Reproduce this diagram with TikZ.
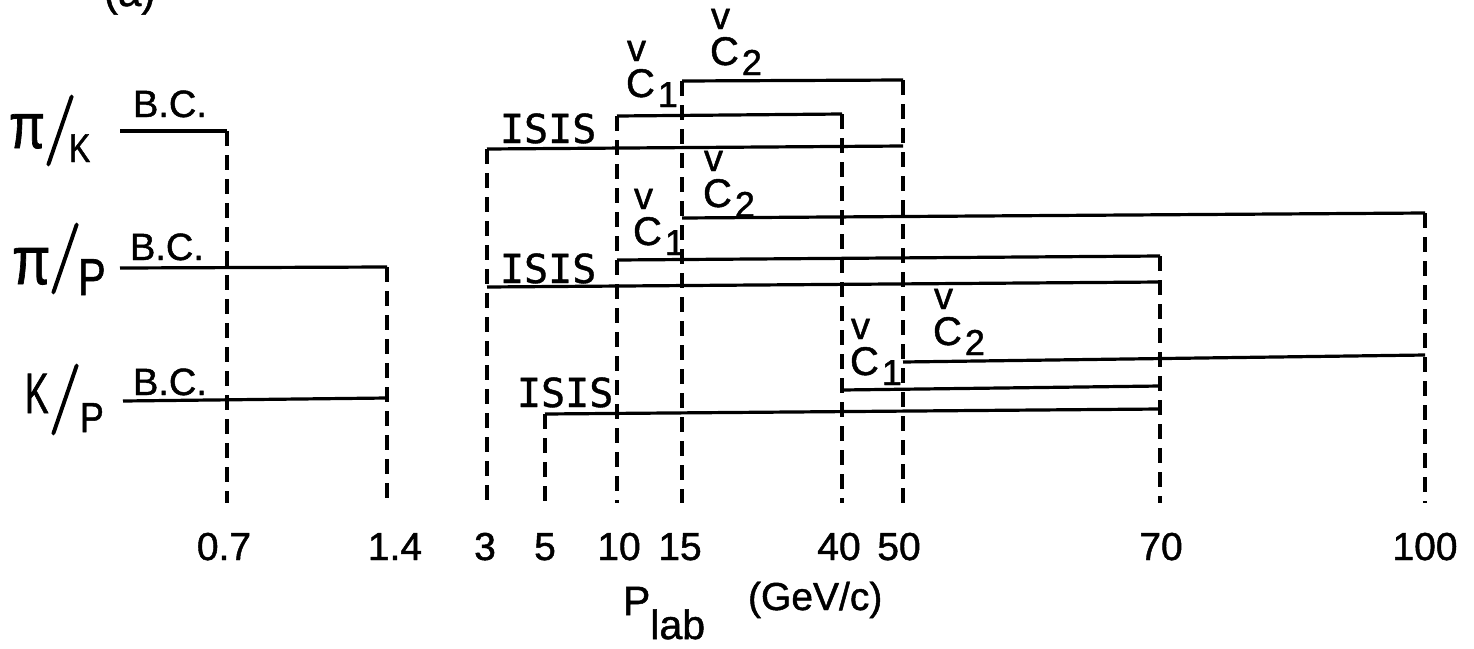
\documentclass[tikz,border=0pt]{standalone}
\usepackage{fontspec}
\setmainfont{Liberation Sans}[FakeBold=1.2]
\newfontfamily\slashfont{Latin Modern Roman}[FakeBold=2]
\newfontfamily\isisfont{DejaVu Sans Mono}[FakeBold=1.0]
\newcommand\fsz[1]{\fontsize{#1}{#1}\selectfont}
\newcommand\Chk[1]{\fsz{40}\makebox[0pt][l]{\hspace{1pt}\raisebox{36pt}{\fsz{38}v}}C\hspace{3pt}\raisebox{-10pt}{\fsz{36}#1}}
\newcommand\RowSlash[1]{{\slashfont\fsz{#1}/}}
\newcommand\RowPi[1]{\scalebox{0.82}[1]{\fsz{#1}π}}
\begin{document}
\begin{tikzpicture}[x=1pt,y=-1pt,
  every node/.style={inner sep=0pt,outer sep=0pt,anchor=base west},
  hline/.style={line width=3.2pt},
  vdash/.style={line width=3.2pt,dash pattern=on 15pt off 9pt},
  ticklbl/.style={anchor=base,font=\fsz{39}},
  bclbl/.style={font=\fsz{38}},
  isislbl/.style={font=\isisfont\fsz{40}}]
\useasboundingbox (0,0) rectangle (1474,648);
\clip (0,0) rectangle (1474,648);
\fill[white] (0,0) rectangle (1474,648);

% panel label (cut off at top)
\node[font=\fsz{42}] (panel) at (104,6) {(a)};

% axis positions
\coordinate (a07) at (227,503);
\coordinate (a14) at (387,503);
\coordinate (a3) at (487,503);
\coordinate (a5) at (545,503);
\coordinate (a10) at (617,503);
\coordinate (a15) at (682,503);
\coordinate (a40) at (842,503);
\coordinate (a50) at (903,503);
\coordinate (a70) at (1160,503);
\coordinate (a100) at (1425,503);

% tick labels
\node[ticklbl] (t07) at (224,560) {0.7};
\node[ticklbl] (t14) at (395,560) {1.4};
\node[ticklbl] (t3) at (485,560) {3};
\node[ticklbl] (t5) at (545,560) {5};
\node[ticklbl] (t10) at (619,560) {10};
\node[ticklbl] (t15) at (680,560) {15};
\node[ticklbl] (t40) at (839,560) {40};
\node[ticklbl] (t50) at (899,560) {50};
\node[ticklbl] (t70) at (1161,560) {70};
\node[ticklbl] (t100) at (1425,560) {100};

% row labels
\node (pkpi) at (9,148) {\RowPi{64}};
\node (pksl) at (44,148) {\RowSlash{70}};
\node[font=\fsz{40}] (pkk) at (69,162) {\scalebox{0.8}[1]{K}};
\node (pppi) at (12,284) {\RowPi{68}};
\node (ppsl) at (49,276) {\RowSlash{70}};
\node[font=\fsz{52}] (ppp) at (78,295) {\scalebox{0.8}[1]{P}};
\node[font=\fsz{57}] (kpk) at (25,413) {\scalebox{0.62}[1]{K}};
\node (kpsl) at (49,417) {\RowSlash{70}};
\node[font=\fsz{42}] (kpp) at (80,432) {\scalebox{0.85}[1]{P}};

% ---- pi/K ----
\draw[hline] (120,131) -- (227,131);
\node[bclbl] (bc1) at (133,117) {B.C.};
\draw[hline] (487,149) -- (903,146);
\node[isislbl] (is1) at (500,143) {ISIS};
\draw[hline] (617,116) -- (842,114);
\node (c1a) at (626,97) {\Chk{1}};
\draw[hline] (682,81) -- (903,80);
\node (c2a) at (710,65) {\Chk{2}};

% ---- pi/p ----
\draw[hline] (120,268) -- (387,267);
\node[bclbl] (bc2) at (130,260) {B.C.};
\draw[hline] (682,218) -- (1425,213);
\node (c2b) at (703,207) {\Chk{2}};
\draw[hline] (617,260) -- (1160,256);
\node (c1b) at (633,245) {\Chk{1}};
\draw[hline] (487,287) -- (1160,282);
\node[isislbl] (is2) at (500,283) {ISIS};

% ---- K/p ----
\draw[hline] (123,401) -- (387,398);
\node[bclbl] (bc3) at (133,395) {B.C.};
\draw[hline] (903,362) -- (1425,355);
\node (c2c) at (933,345) {\Chk{2}};
\draw[hline] (842,390) -- (1160,386);
\node (c1c) at (850,375) {\Chk{1}};
\draw[hline] (545,414) -- (1160,409);
\node[isislbl] (is3) at (517,407) {ISIS};

% dashed verticals
\draw[vdash] (227,131) -- (a07);
\draw[vdash] (387,267) -- (a14);
\draw[vdash] (487,149) -- (a3);
\draw[vdash] (545,414) -- (a5);
\draw[vdash] (617,116) -- (a10);
\draw[vdash] (682,81) -- (a15);
\draw[vdash] (842,114) -- (a40);
\draw[vdash] (903,80) -- (a50);
\draw[vdash] (1160,256) -- (a70);
\draw[vdash] (1425,213) -- (a100);

% axis title
\node[font=\fsz{41}] (plab) at (623,615) {P\raisebox{-24pt}{\fsz{41}lab}};
\node[font=\fsz{39}] (gev) at (748,610) {(GeV/c)};
\end{tikzpicture}
\end{document}
